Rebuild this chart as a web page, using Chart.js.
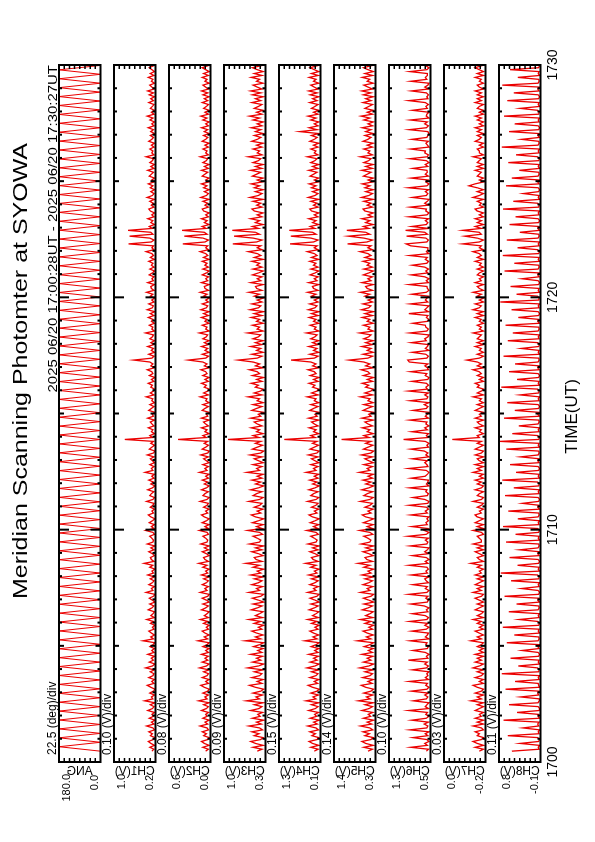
<!DOCTYPE html>
<html><head><meta charset="utf-8">
<script src="https://cdn.jsdelivr.net/npm/chart.js@4"></script>
<style>
html,body{margin:0;padding:0;background:#fff;width:595px;height:842px;overflow:hidden;}
#rot{position:absolute;left:0;top:0;width:842px;height:595px;transform-origin:0 0;transform:translateY(842px) rotate(-90deg);background:#fff;}
#rot canvas{position:absolute;left:0;top:0;}
</style></head><body><div id="rot"></div>
<script>
// ---------------- data ----------------
const TIME_START = 28/60;   // minutes after 17:00 (17:00:28UT)
const TIME_STEP = 5/60;     // channel sampling, 5 s
const ANG_STEP = 11.5/60;   // scan-angle turning points, ~11.5 s
const X_TICK_VALUES = [0,10,20,30];
const X_TICK_LABELS = ['1700','1710','1720','1730'];
const PANEL_NAMES = ['ANG','CH1(V)','CH2(V)','CH3(V)','CH4(V)','CH5(V)','CH6(V)','CH7(V)','CH8(V)'];
const Y_MIN = [0, 0.2, 0.0, 0.3, 0.1, 0.3, 0.5, -0.2, -0.1];
const Y_MAX = [180, 1.0, 0.6, 1.0, 1.3, 1.4, 1.3, 0.0, 0.8];
const Y_MIN_LABELS = ['0.0','0.2','0.0','0.3','0.1','0.3','0.5','-0.2','-0.1'];
const Y_MAX_LABELS = ['180.0','1.0','0.6','1.0','1.3','1.4','1.3','0.0','0.8'];
const DIV_LABELS = ['22.5 (deg)/div','0.10 (V)/div','0.08 (V)/div','0.09 (V)/div','0.15 (V)/div','0.14 (V)/div','0.10 (V)/div','0.03 (V)/div','0.11 (V)/div'];
const TITLE = 'Meridian Scanning Photomter at SYOWA';
const HEADER = '2025 06/20 17:00:28UT - 2025 06/20 17:30:27UT';
const X_TITLE = 'TIME(UT)';

const ANG = [
0,180,0,180,0,180,0,180,0,180, 0,180,0,180,0,180,0,180,0,180,
0,180,0,180,0,180,0,180,0,180, 0,180,0,180,0,180,0,180,0,180,
0,180,0,180,0,180,0,180,0,180, 0,180,0,180,0,180,0,180,0,180,
0,180,0,180,0,180,0,180,0,180, 0,180,0,180,0,180,0,180,0,180,
0,180,0,180,0,180,0,180,0,180, 0,180,0,180,0,180,0,180,0,180,
0,180,0,180,0,180,0,180,0,180, 0,180,0,180,0,180,0,180,0,180,
0,180,0,180,0,180,0,180,0,180, 0,180,0,180,0,180,0,180,0,180,
0,180,0,180,0,180,0,180,0,180, 0,180,0,180,0,180,0];

const CH1 = [
0.27,0.23,0.31,0.22,0.29,0.34,0.24,0.21,0.30,0.26, 0.33,0.22,0.25,0.37,0.23,0.28,0.21,0.32,0.24,0.27,
0.22,0.35,0.26,0.23,0.30,0.21,0.41,0.25,0.28,0.22, 0.31,0.24,0.21,0.29,0.36,0.23,0.27,0.22,0.33,0.25,
0.23,0.30,0.22,0.39,0.26,0.21,0.32,0.24,0.28,0.22, 0.35,0.23,0.27,0.22,0.31,0.25,0.21,0.44,0.24,0.29,
0.22,0.28,0.33,0.23,0.26,0.21,0.30,0.24,0.37,0.22, 0.29,0.25,0.22,0.34,0.27,0.23,0.31,0.21,0.26,0.32,
0.24,0.21,0.38,0.25,0.28,0.22,0.33,0.26,0.23,0.30, 0.22,0.35,0.24,0.27,0.21,0.31,0.25,0.42,0.23,0.28,
0.30,0.22,0.26,0.33,0.23,0.29,0.21,0.36,0.25,0.24, 0.27,0.31,0.22,0.25,0.39,0.23,0.28,0.22,0.32,0.26,
0.21,0.29,0.34,0.24,0.27,0.22,0.30,0.25,0.23,0.37, 0.25,0.22,0.31,0.28,0.23,0.35,0.26,0.21,0.29,0.24,
0.33,0.23,0.27,0.22,0.40,0.25,0.28,0.23,0.31,0.22, 0.26,0.30,0.23,0.36,0.24,0.21,0.32,0.27,0.22,0.29,
0.24,0.79,0.26,0.31,0.22,0.28,0.25,0.34,0.23,0.27, 0.30,0.22,0.35,0.24,0.26,0.21,0.33,0.28,0.23,0.31,
0.22,0.27,0.25,0.38,0.23,0.30,0.24,0.22,0.29,0.26, 0.34,0.23,0.28,0.21,0.32,0.25,0.27,0.36,0.22,0.29,
0.25,0.31,0.62,0.27,0.23,0.33,0.22,0.28,0.24,0.35, 0.23,0.29,0.22,0.31,0.26,0.24,0.39,0.22,0.27,0.25,
0.32,0.22,0.28,0.25,0.34,0.23,0.30,0.21,0.36,0.26, 0.24,0.33,0.23,0.27,0.22,0.30,0.25,0.37,0.23,0.28,
0.29,0.22,0.35,0.24,0.27,0.23,0.32,0.26,0.22,0.31, 0.23,0.28,0.25,0.33,0.22,0.30,0.24,0.27,0.38,0.23,
0.27,0.24,0.72,0.28,0.23,0.31,0.70,0.25,0.29,0.73, 0.26,0.32,0.22,0.29,0.25,0.35,0.23,0.27,0.22,0.30,
0.33,0.23,0.28,0.24,0.31,0.22,0.36,0.26,0.23,0.29, 0.22,0.30,0.25,0.34,0.23,0.27,0.22,0.32,0.28,0.24,
0.35,0.23,0.29,0.22,0.31,0.26,0.24,0.38,0.23,0.27, 0.25,0.31,0.23,0.28,0.22,0.33,0.27,0.24,0.30,0.22,
0.29,0.24,0.34,0.23,0.27,0.22,0.31,0.25,0.36,0.23, 0.28,0.22,0.30,0.26,0.23,0.33,0.24,0.29,0.22,0.32,
0.24,0.35,0.23,0.27,0.31,0.22,0.28,0.25,0.34,0.23, 0.30,0.22,0.27,0.32,0.24,0.29,0.23,0.35,0.26,0.28];

const CH2 = [
0.07,0.03,0.11,0.02,0.09,0.13,0.04,0.02,0.10,0.06, 0.12,0.03,0.05,0.15,0.04,0.08,0.02,0.11,0.05,0.07,
0.03,0.13,0.06,0.03,0.10,0.02,0.17,0.05,0.08,0.03, 0.11,0.04,0.02,0.09,0.14,0.03,0.07,0.02,0.12,0.05,
0.03,0.10,0.02,0.16,0.06,0.02,0.12,0.04,0.08,0.03, 0.13,0.03,0.07,0.02,0.11,0.05,0.02,0.18,0.04,0.09,
0.02,0.08,0.12,0.03,0.06,0.02,0.10,0.04,0.15,0.03, 0.09,0.05,0.02,0.13,0.07,0.03,0.11,0.02,0.06,0.12,
0.04,0.02,0.15,0.05,0.08,0.03,0.12,0.06,0.03,0.10, 0.02,0.13,0.04,0.07,0.02,0.11,0.05,0.17,0.03,0.08,
0.10,0.02,0.06,0.12,0.03,0.09,0.02,0.14,0.05,0.04, 0.07,0.11,0.03,0.05,0.16,0.03,0.08,0.02,0.12,0.06,
0.02,0.09,0.13,0.04,0.07,0.02,0.10,0.05,0.03,0.15, 0.05,0.02,0.11,0.08,0.03,0.13,0.06,0.02,0.09,0.04,
0.12,0.03,0.07,0.02,0.16,0.05,0.08,0.03,0.11,0.02, 0.06,0.10,0.03,0.14,0.04,0.02,0.12,0.07,0.03,0.09,
0.04,0.47,0.06,0.11,0.02,0.08,0.05,0.13,0.03,0.07, 0.10,0.02,0.13,0.04,0.06,0.02,0.12,0.08,0.03,0.11,
0.02,0.07,0.05,0.15,0.03,0.10,0.04,0.02,0.09,0.06, 0.13,0.03,0.08,0.02,0.11,0.05,0.07,0.14,0.02,0.09,
0.05,0.11,0.32,0.07,0.03,0.12,0.02,0.08,0.04,0.13, 0.03,0.09,0.02,0.11,0.06,0.04,0.16,0.02,0.07,0.05,
0.12,0.02,0.08,0.05,0.13,0.03,0.10,0.02,0.14,0.06, 0.04,0.12,0.03,0.07,0.02,0.10,0.05,0.15,0.03,0.08,
0.09,0.02,0.13,0.04,0.07,0.03,0.12,0.06,0.02,0.11, 0.03,0.08,0.05,0.12,0.02,0.10,0.04,0.07,0.15,0.03,
0.07,0.04,0.40,0.08,0.03,0.11,0.38,0.05,0.09,0.41, 0.06,0.12,0.02,0.09,0.05,0.13,0.03,0.07,0.02,0.10,
0.12,0.03,0.08,0.04,0.11,0.02,0.14,0.06,0.03,0.09, 0.02,0.10,0.05,0.13,0.03,0.07,0.02,0.12,0.08,0.04,
0.13,0.03,0.09,0.02,0.11,0.06,0.04,0.15,0.03,0.07, 0.05,0.11,0.03,0.08,0.02,0.12,0.07,0.04,0.10,0.02,
0.09,0.04,0.13,0.03,0.07,0.02,0.11,0.05,0.14,0.03, 0.08,0.02,0.10,0.06,0.03,0.12,0.04,0.09,0.02,0.11,
0.04,0.13,0.03,0.07,0.11,0.02,0.08,0.05,0.12,0.03, 0.10,0.02,0.07,0.12,0.04,0.09,0.03,0.14,0.06,0.08];

const CH3 = [
0.44,0.36,0.51,0.34,0.47,0.55,0.38,0.34,0.49,0.41, 0.53,0.35,0.40,0.58,0.37,0.45,0.33,0.52,0.39,0.43,
0.35,0.55,0.41,0.36,0.49,0.34,0.62,0.40,0.46,0.35, 0.51,0.38,0.33,0.47,0.57,0.36,0.44,0.34,0.53,0.40,
0.36,0.49,0.34,0.60,0.42,0.33,0.52,0.38,0.45,0.35, 0.55,0.36,0.43,0.34,0.50,0.40,0.33,0.64,0.38,0.47,
0.34,0.45,0.53,0.36,0.42,0.33,0.49,0.38,0.58,0.35, 0.47,0.40,0.34,0.54,0.44,0.36,0.51,0.33,0.42,0.52,
0.38,0.33,0.58,0.40,0.45,0.35,0.53,0.42,0.36,0.49, 0.34,0.55,0.38,0.44,0.33,0.51,0.40,0.63,0.36,0.46,
0.49,0.34,0.42,0.53,0.36,0.47,0.33,0.57,0.40,0.38, 0.44,0.51,0.35,0.40,0.60,0.36,0.45,0.34,0.52,0.42,
0.33,0.47,0.54,0.38,0.44,0.34,0.49,0.40,0.36,0.58, 0.40,0.34,0.51,0.45,0.36,0.55,0.42,0.33,0.47,0.38,
0.53,0.36,0.44,0.34,0.61,0.40,0.45,0.36,0.51,0.34, 0.42,0.49,0.36,0.56,0.38,0.33,0.52,0.44,0.35,0.47,
0.38,0.93,0.41,0.51,0.34,0.45,0.40,0.54,0.36,0.44, 0.49,0.34,0.55,0.38,0.42,0.33,0.53,0.45,0.36,0.51,
0.34,0.44,0.40,0.59,0.36,0.49,0.38,0.34,0.47,0.42, 0.54,0.36,0.45,0.33,0.52,0.40,0.44,0.57,0.34,0.47,
0.40,0.51,0.76,0.44,0.36,0.53,0.34,0.45,0.38,0.55, 0.36,0.47,0.34,0.51,0.42,0.38,0.60,0.34,0.44,0.40,
0.52,0.34,0.45,0.40,0.54,0.36,0.49,0.33,0.56,0.42, 0.38,0.53,0.36,0.44,0.34,0.49,0.40,0.58,0.36,0.45,
0.47,0.34,0.55,0.38,0.44,0.36,0.52,0.42,0.34,0.51, 0.36,0.45,0.40,0.53,0.34,0.49,0.38,0.44,0.59,0.36,
0.44,0.38,0.85,0.45,0.36,0.51,0.83,0.40,0.47,0.86, 0.42,0.52,0.34,0.47,0.40,0.55,0.36,0.44,0.34,0.49,
0.53,0.36,0.45,0.38,0.51,0.34,0.56,0.42,0.36,0.47, 0.34,0.49,0.40,0.54,0.36,0.44,0.34,0.52,0.45,0.38,
0.55,0.36,0.47,0.34,0.51,0.42,0.38,0.59,0.36,0.44, 0.40,0.51,0.36,0.45,0.34,0.53,0.44,0.38,0.49,0.34,
0.47,0.38,0.54,0.36,0.44,0.34,0.51,0.40,0.57,0.36, 0.45,0.34,0.49,0.42,0.36,0.53,0.38,0.47,0.34,0.52,
0.38,0.55,0.36,0.44,0.51,0.34,0.45,0.40,0.54,0.36, 0.49,0.34,0.44,0.52,0.38,0.47,0.36,0.56,0.42,0.45];

const CH4 = [
0.28,0.17,0.38,0.15,0.33,0.43,0.20,0.15,0.35,0.25, 0.41,0.16,0.23,0.47,0.19,0.30,0.14,0.40,0.21,0.27,
0.16,0.44,0.25,0.17,0.36,0.15,0.52,0.23,0.32,0.16, 0.38,0.20,0.14,0.33,0.46,0.18,0.28,0.15,0.41,0.23,
0.17,0.36,0.15,0.49,0.26,0.14,0.40,0.20,0.30,0.16, 0.44,0.17,0.27,0.15,0.37,0.23,0.14,0.55,0.20,0.32,
0.15,0.30,0.41,0.17,0.26,0.14,0.36,0.20,0.47,0.16, 0.33,0.23,0.15,0.43,0.28,0.17,0.38,0.14,0.26,0.40,
0.20,0.14,0.47,0.23,0.30,0.16,0.41,0.26,0.17,0.36, 0.15,0.44,0.20,0.28,0.14,0.38,0.23,0.53,0.17,0.31,
0.36,0.15,0.26,0.41,0.17,0.33,0.14,0.46,0.23,0.20, 0.28,0.38,0.16,0.23,0.50,0.17,0.30,0.15,0.40,0.26,
0.14,0.33,0.43,0.20,0.28,0.15,0.36,0.23,0.17,0.47, 0.23,0.15,0.38,0.30,0.17,0.44,0.26,0.14,0.33,0.20,
0.41,0.17,0.28,0.15,0.51,0.23,0.30,0.17,0.38,0.15, 0.26,0.36,0.17,0.45,0.20,0.14,0.40,0.28,0.16,0.33,
0.20,1.15,0.25,0.38,0.15,0.30,0.23,0.43,0.17,0.28, 0.36,0.15,0.44,0.20,0.26,0.14,0.41,0.30,0.17,0.38,
0.15,0.28,0.23,0.48,0.17,0.36,0.20,0.15,0.33,0.26, 0.43,0.17,0.30,0.14,0.40,0.23,0.28,0.46,0.15,0.33,
0.23,0.38,0.95,0.28,0.17,0.41,0.15,0.30,0.20,0.44, 0.17,0.33,0.15,0.38,0.26,0.20,0.50,0.15,0.28,0.23,
0.40,0.15,0.30,0.23,0.43,0.17,0.36,0.14,0.45,0.26, 0.20,0.41,0.17,0.28,0.15,0.36,0.23,0.47,0.17,0.30,
0.33,0.15,0.44,0.20,0.28,0.17,0.40,0.26,0.15,0.38, 0.17,0.30,0.23,0.41,0.15,0.36,0.20,0.28,0.48,0.17,
0.28,0.20,0.98,0.30,0.17,0.38,0.96,0.23,0.33,1.00, 0.26,0.40,0.15,0.33,0.23,0.44,0.17,0.28,0.15,0.36,
0.41,0.17,0.30,0.20,0.38,0.15,0.45,0.26,0.17,0.33, 0.15,0.36,0.23,0.43,0.17,0.28,0.15,0.40,0.30,0.20,
0.44,0.17,0.33,0.15,0.38,0.26,0.20,0.48,0.17,0.28, 0.23,0.38,0.17,0.30,0.15,0.41,0.28,0.20,0.36,0.15,
0.70,0.20,0.43,0.17,0.28,0.15,0.38,0.23,0.46,0.17, 0.30,0.15,0.36,0.26,0.17,0.41,0.20,0.33,0.15,0.40,
0.20,0.44,0.17,0.28,0.38,0.15,0.30,0.23,0.43,0.17, 0.36,0.15,0.28,0.40,0.20,0.33,0.17,0.45,0.26,0.30];

const CH5 = [
0.50,0.38,0.61,0.36,0.56,0.66,0.42,0.36,0.58,0.46, 0.63,0.37,0.45,0.70,0.40,0.52,0.35,0.62,0.43,0.49,
0.37,0.66,0.47,0.38,0.58,0.36,0.75,0.44,0.54,0.37, 0.61,0.42,0.35,0.56,0.68,0.39,0.50,0.36,0.64,0.45,
0.38,0.58,0.36,0.72,0.48,0.35,0.62,0.42,0.52,0.37, 0.66,0.38,0.49,0.36,0.60,0.45,0.35,0.78,0.42,0.54,
0.36,0.52,0.63,0.38,0.48,0.35,0.58,0.42,0.70,0.37, 0.56,0.45,0.36,0.65,0.50,0.38,0.61,0.35,0.48,0.62,
0.42,0.35,0.70,0.45,0.52,0.37,0.63,0.48,0.38,0.58, 0.36,0.66,0.42,0.50,0.35,0.61,0.45,0.76,0.38,0.53,
0.58,0.36,0.48,0.63,0.38,0.56,0.35,0.68,0.45,0.42, 0.50,0.61,0.37,0.45,0.72,0.38,0.52,0.36,0.62,0.48,
0.35,0.56,0.65,0.42,0.50,0.36,0.58,0.45,0.38,0.70, 0.45,0.36,0.61,0.52,0.38,0.66,0.48,0.35,0.56,0.42,
0.63,0.38,0.50,0.36,0.73,0.45,0.52,0.38,0.61,0.36, 0.48,0.58,0.38,0.67,0.42,0.35,0.62,0.50,0.37,0.56,
0.42,1.20,0.47,0.61,0.36,0.52,0.45,0.65,0.38,0.50, 0.58,0.36,0.66,0.42,0.48,0.35,0.63,0.52,0.38,0.61,
0.36,0.50,0.45,0.70,0.38,0.58,0.42,0.36,0.56,0.48, 0.65,0.38,0.52,0.35,0.62,0.45,0.50,0.68,0.36,0.56,
0.45,0.61,1.00,0.50,0.38,0.63,0.36,0.52,0.42,0.66, 0.38,0.56,0.36,0.61,0.48,0.42,0.72,0.36,0.50,0.45,
0.62,0.36,0.52,0.45,0.65,0.38,0.58,0.35,0.67,0.48, 0.42,0.63,0.38,0.50,0.36,0.58,0.45,0.70,0.38,0.52,
0.56,0.36,0.66,0.42,0.50,0.38,0.62,0.48,0.36,0.61, 0.38,0.52,0.45,0.63,0.36,0.58,0.42,0.50,0.71,0.38,
0.50,0.42,1.04,0.52,0.38,0.61,1.02,0.45,0.56,1.06, 0.48,0.62,0.36,0.56,0.45,0.66,0.38,0.50,0.36,0.58,
0.63,0.38,0.52,0.42,0.61,0.36,0.67,0.48,0.38,0.56, 0.36,0.58,0.45,0.65,0.38,0.50,0.36,0.62,0.52,0.42,
0.66,0.38,0.56,0.36,0.61,0.48,0.42,0.70,0.38,0.50, 0.45,0.61,0.38,0.52,0.36,0.63,0.50,0.42,0.58,0.36,
0.56,0.42,0.65,0.38,0.50,0.36,0.61,0.45,0.68,0.38, 0.52,0.36,0.58,0.48,0.38,0.63,0.42,0.56,0.36,0.62,
0.42,0.66,0.38,0.50,0.61,0.36,0.52,0.45,0.65,0.38, 0.58,0.36,0.50,0.62,0.42,0.56,0.38,0.67,0.48,0.52];

const CH6 = [
0.58,0.54,0.88,0.56,0.61,0.53,0.57,0.84,0.55,0.60, 0.53,0.90,0.57,0.55,0.62,0.54,0.86,0.58,0.53,0.59,
0.56,0.92,0.54,0.60,0.57,0.53,0.83,0.58,0.55,0.61, 0.54,0.87,0.57,0.53,0.59,0.56,0.91,0.54,0.60,0.55,
0.57,0.53,0.85,0.58,0.54,0.61,0.56,0.93,0.55,0.58, 0.53,0.60,0.84,0.56,0.54,0.59,0.57,0.89,0.53,0.60,
0.56,0.54,0.86,0.58,0.53,0.61,0.55,0.90,0.57,0.54, 0.60,0.85,0.55,0.58,0.53,0.62,0.88,0.56,0.54,0.59,
0.55,0.92,0.57,0.53,0.60,0.56,0.84,0.54,0.58,0.61, 0.53,0.87,0.56,0.59,0.54,0.57,0.91,0.55,0.60,0.53,
0.58,0.85,0.54,0.61,0.56,0.53,0.89,0.57,0.55,0.60, 0.54,0.93,0.58,0.53,0.62,0.55,0.86,0.56,0.59,0.54,
0.57,0.53,0.88,0.56,0.60,0.54,0.58,0.91,0.55,0.53, 0.61,0.84,0.56,0.54,0.59,0.57,0.90,0.53,0.58,0.55,
0.54,0.87,0.60,0.56,0.53,0.58,0.92,0.55,0.57,0.61, 0.56,0.85,0.53,0.59,0.55,0.62,0.88,0.54,0.57,0.53,
0.60,1.02,0.55,0.58,0.54,0.86,0.56,0.61,0.53,0.59, 0.57,0.90,0.54,0.60,0.56,0.53,0.84,0.58,0.55,0.62,
0.53,0.89,0.57,0.55,0.61,0.54,0.92,0.56,0.59,0.54, 0.58,0.86,0.55,0.53,0.60,0.57,0.88,0.54,0.56,0.61,
0.55,0.91,0.94,0.57,0.54,0.59,0.85,0.53,0.60,0.56, 0.54,0.87,0.58,0.61,0.55,0.53,0.90,0.57,0.54,0.59,
0.60,0.84,0.56,0.53,0.58,0.55,0.92,0.54,0.61,0.57, 0.53,0.89,0.55,0.60,0.57,0.54,0.86,0.58,0.53,0.56,
0.57,0.91,0.54,0.58,0.53,0.61,0.87,0.55,0.59,0.54, 0.61,0.85,0.57,0.54,0.60,0.56,0.90,0.53,0.58,0.55,
0.55,0.88,0.97,0.57,0.54,0.59,0.96,0.56,0.61,0.98, 0.53,0.86,0.58,0.55,0.60,0.54,0.91,0.57,0.53,0.59,
0.58,0.89,0.54,0.61,0.56,0.53,0.85,0.58,0.55,0.60, 0.54,0.92,0.57,0.53,0.59,0.55,0.87,0.54,0.60,0.56,
0.57,0.84,0.55,0.60,0.53,0.58,0.90,0.56,0.54,0.61, 0.60,0.88,0.53,0.56,0.59,0.54,0.86,0.57,0.55,0.53,
0.55,0.91,0.58,0.54,0.61,0.56,0.89,0.53,0.58,0.57, 0.53,0.85,0.56,0.59,0.54,0.60,0.92,0.55,0.57,0.54,
0.58,0.87,0.54,0.61,0.55,0.53,0.88,0.57,0.60,0.56, 0.56,0.90,0.57,0.53,0.59,0.55,0.86,0.54,0.58,0.60];

const CH7 = [
-0.17,-0.19,-0.15,-0.19,-0.16,-0.14,-0.18,-0.19,-0.16,-0.17, -0.15,-0.19,-0.18,-0.14,-0.19,-0.16,-0.19,-0.15,-0.18,-0.17,
-0.19,-0.15,-0.17,-0.19,-0.16,-0.19,-0.13,-0.18,-0.16,-0.19, -0.15,-0.18,-0.19,-0.16,-0.14,-0.19,-0.17,-0.19,-0.15,-0.18,
-0.19,-0.16,-0.19,-0.14,-0.17,-0.19,-0.15,-0.18,-0.16,-0.19, -0.15,-0.19,-0.17,-0.19,-0.16,-0.18,-0.19,-0.13,-0.18,-0.16,
-0.19,-0.17,-0.15,-0.19,-0.17,-0.19,-0.16,-0.18,-0.14,-0.19, -0.16,-0.18,-0.19,-0.15,-0.17,-0.19,-0.16,-0.19,-0.17,-0.15,
-0.18,-0.19,-0.14,-0.18,-0.16,-0.19,-0.15,-0.17,-0.19,-0.16, -0.19,-0.15,-0.18,-0.17,-0.19,-0.16,-0.18,-0.13,-0.19,-0.17,
-0.16,-0.19,-0.17,-0.15,-0.19,-0.16,-0.19,-0.14,-0.18,-0.18, -0.17,-0.16,-0.19,-0.18,-0.14,-0.19,-0.16,-0.19,-0.15,-0.17,
-0.19,-0.16,-0.15,-0.18,-0.17,-0.19,-0.16,-0.18,-0.19,-0.14, -0.18,-0.19,-0.16,-0.17,-0.19,-0.15,-0.18,-0.19,-0.16,-0.18,
-0.15,-0.19,-0.17,-0.19,-0.14,-0.18,-0.16,-0.19,-0.15,-0.19, -0.17,-0.16,-0.19,-0.15,-0.18,-0.19,-0.15,-0.17,-0.19,-0.16,
-0.18,-0.04,-0.17,-0.16,-0.19,-0.17,-0.18,-0.15,-0.19,-0.17, -0.16,-0.19,-0.15,-0.18,-0.17,-0.19,-0.15,-0.17,-0.19,-0.16,
-0.19,-0.17,-0.18,-0.14,-0.19,-0.16,-0.18,-0.19,-0.16,-0.17, -0.15,-0.19,-0.17,-0.19,-0.16,-0.18,-0.17,-0.14,-0.19,-0.16,
-0.18,-0.16,-0.11,-0.17,-0.19,-0.16,-0.19,-0.17,-0.18,-0.15, -0.19,-0.16,-0.19,-0.16,-0.17,-0.18,-0.14,-0.19,-0.17,-0.18,
-0.16,-0.19,-0.17,-0.18,-0.15,-0.19,-0.16,-0.19,-0.14,-0.17, -0.18,-0.15,-0.19,-0.17,-0.19,-0.16,-0.18,-0.14,-0.19,-0.17,
-0.16,-0.19,-0.15,-0.18,-0.17,-0.19,-0.16,-0.17,-0.19,-0.16, -0.19,-0.17,-0.18,-0.15,-0.19,-0.16,-0.18,-0.17,-0.14,-0.19,
-0.17,-0.18,-0.09,-0.17,-0.19,-0.16,-0.10,-0.18,-0.17,-0.09, -0.18,-0.15,-0.19,-0.16,-0.18,-0.15,-0.19,-0.17,-0.19,-0.16,
-0.15,-0.19,-0.17,-0.18,-0.16,-0.19,-0.14,-0.17,-0.19,-0.16, -0.19,-0.16,-0.12,-0.15,-0.19,-0.17,-0.19,-0.16,-0.17,-0.18,
-0.15,-0.19,-0.16,-0.19,-0.16,-0.17,-0.18,-0.14,-0.19,-0.17, -0.17,-0.16,-0.19,-0.17,-0.19,-0.15,-0.17,-0.18,-0.16,-0.19,
-0.16,-0.18,-0.15,-0.19,-0.17,-0.19,-0.16,-0.18,-0.15,-0.19, -0.17,-0.19,-0.16,-0.17,-0.19,-0.15,-0.18,-0.16,-0.19,-0.16,
-0.18,-0.15,-0.19,-0.17,-0.16,-0.19,-0.17,-0.18,-0.15,-0.19, -0.16,-0.19,-0.17,-0.15,-0.18,-0.16,-0.19,-0.14,-0.17,-0.17];

const CH8 = [
0.52,-0.07,-0.05,-0.08,0.34,-0.06,-0.08,-0.04,0.61,-0.07,-0.05,-0.08,
0.28,-0.06,-0.04,-0.07,0.70,-0.08,-0.05,-0.06,0.41,-0.07,-0.08,-0.05,
0.58,-0.05,-0.07,-0.08,0.33,-0.06,-0.04,-0.07,0.66,-0.08,-0.06,-0.05,
0.45,-0.07,-0.05,-0.08,0.74,-0.06,-0.07,-0.04,0.38,-0.08,-0.05,-0.07,
0.55,-0.06,-0.08,-0.05,0.30,-0.07,-0.04,-0.08,0.63,-0.05,-0.07,-0.06,
0.47,-0.08,-0.05,-0.07,0.72,-0.06,-0.08,-0.04,0.36,-0.07,-0.05,-0.08,
0.59,-0.05,-0.07,-0.06,0.42,-0.08,-0.04,-0.07,0.68,-0.06,-0.08,-0.05,
0.31,-0.07,-0.05,-0.08,0.54,-0.06,-0.07,-0.04,0.76,-0.08,-0.05,-0.07,
0.40,-0.06,-0.08,-0.05,0.57,-0.07,-0.04,-0.08,0.35,-0.05,-0.07,-0.06,
0.65,-0.08,-0.05,-0.07,0.44,-0.06,-0.08,-0.04,0.71,-0.07,-0.05,-0.08,
0.39,-0.05,-0.07,-0.06,0.60,-0.08,-0.04,-0.07,0.29,-0.06,-0.08,-0.05,
0.67,-0.07,-0.05,-0.08,0.48,-0.06,-0.07,-0.04,0.73,-0.08,-0.05,-0.07,
0.43,-0.06,-0.08,-0.05,0.56,-0.07,-0.04,-0.08,0.33,-0.05,-0.07,-0.06,
0.64,-0.08,-0.05,-0.07,0.78,-0.06,-0.08,-0.04,0.51,-0.07,-0.05,-0.08,
0.37,-0.05,-0.07,-0.06,0.69,-0.08,-0.04,-0.07,0.46,-0.06,-0.08,-0.05,
0.62,-0.07,-0.05,-0.08,0.34,-0.06,-0.07,-0.04,0.75,-0.08,-0.05,-0.07,
0.41,-0.06,-0.08,-0.05,0.58,-0.07,-0.04,-0.08,0.45,-0.05,-0.07,-0.06,
0.70,-0.08,-0.05,-0.07,0.32,-0.06,-0.08,-0.04,0.61,-0.07,-0.05,-0.08,
0.50,-0.05,-0.07,-0.06,0.66,-0.08,-0.04,-0.07,0.38,-0.06,-0.08,-0.05,
0.53,-0.07,-0.05,-0.08,0.77,-0.06,-0.07,-0.04,0.42,-0.08,-0.05,-0.07,
0.55,-0.06,-0.08,-0.05,0.30,-0.07,-0.04,-0.08,0.68,-0.05,-0.07,-0.06,
0.47,-0.08,-0.05,-0.07,0.72,-0.06,-0.08,-0.04,0.40,-0.07,-0.05,-0.08,
0.63,-0.05,-0.07,-0.06,0.35,-0.08,-0.04,-0.07,0.57,-0.06,-0.08,-0.05,
0.44,-0.07,-0.05,-0.08,0.71,-0.06,-0.07,-0.04,0.49,-0.08,-0.05,-0.07,
0.27,-0.06,-0.08,-0.05,0.65,-0.07,-0.04,-0.08,0.52,-0.05,-0.07,-0.06,
0.36,-0.08,-0.05,-0.07,0.60,-0.06,-0.08,-0.04,0.43,-0.07,-0.05,-0.08,
0.74,-0.05,-0.07,-0.06,0.31,-0.08,-0.04,-0.07,0.58,-0.06,-0.08,-0.05,
0.46,-0.07,-0.05,-0.08,0.69,-0.06,-0.07,-0.04,0.34,-0.08,-0.05,-0.07,
0.62,-0.06,-0.08,-0.05,0.48,-0.07,-0.04,-0.08,0.73,-0.05,-0.07,-0.06,
0.39,-0.08,-0.05,-0.07,0.56,-0.06,-0.08,-0.04,0.67,-0.07,-0.05,-0.08];

const SERIES = [ANG, CH1, CH2, CH3, CH4, CH5, CH6, CH7, CH8];
const STEPS = [ANG_STEP, TIME_STEP, TIME_STEP, TIME_STEP, TIME_STEP, TIME_STEP, TIME_STEP, TIME_STEP, TIME_STEP];

// ---------------- layout (unrotated coordinates, 842 x 595) ----------------
const W = 842, H = 595;
const PLOT_LEFT = 80, PLOT_RIGHT = 777;
const PANEL_TOP0 = 59, PANEL_PITCH = 55, PANEL_H = 41.5;
const FONT = '"Liberation Sans", Arial, Helvetica, sans-serif';
const LINE_COLOR = 'rgb(235,0,0)';
const LINE_WIDTHS = [1, 1.3, 1.3, 1.3, 1.3, 1.3, 1.3, 1.3, 1.3];

function stretchText(ctx, text, x, y, sx) {
  ctx.save(); ctx.translate(x, y); ctx.scale(sx, 1); ctx.fillText(text, 0, 0); ctx.restore();
}

function makePanelPlugin(k) {
  return {
    id: 'panel' + k,
    afterDraw(chart) {
      const ctx = chart.ctx, a = chart.chartArea;
      const xs = chart.scales.x, ys = chart.scales.y;
      ctx.save();
      ctx.strokeStyle = '#000'; ctx.fillStyle = '#000';
      // time ticks (inward, top and bottom)
      ctx.lineWidth = 2;
      ctx.beginPath();
      for (let m = 1; m < 30; m++) {
        const px = xs.getPixelForValue(m);
        const len = m % 10 === 0 ? 10 : (m % 5 === 0 ? 5 : 3);
        ctx.moveTo(px, a.top); ctx.lineTo(px, a.top + len);
        ctx.moveTo(px, a.bottom); ctx.lineTo(px, a.bottom - len);
      }
      ctx.stroke();
      // value ticks: 8 divisions
      ctx.lineWidth = 1.5;
      ctx.beginPath();
      for (let j = 1; j < 8; j++) {
        const py = ys.getPixelForValue(Y_MIN[k] + j * (Y_MAX[k] - Y_MIN[k]) / 8);
        ctx.moveTo(a.left, py); ctx.lineTo(a.left + 4, py);
        ctx.moveTo(a.right, py); ctx.lineTo(a.right - 4, py);
      }
      ctx.stroke();
      // frame
      ctx.lineWidth = 2;
      ctx.strokeRect(a.left, a.top, a.right - a.left, a.bottom - a.top);
      // value labels
      ctx.font = '11px ' + FONT;
      ctx.textAlign = 'right'; ctx.textBaseline = 'middle';
      ctx.fillText(Y_MAX_LABELS[k], a.left - 12, ys.getPixelForValue(Y_MAX[k]) + 8);
      ctx.fillText(Y_MIN_LABELS[k], a.left - 13, ys.getPixelForValue(Y_MIN[k]) - 6);
      // per-division label above the panel
      ctx.font = '12px ' + FONT;
      ctx.textAlign = 'left'; ctx.textBaseline = 'alphabetic';
      ctx.fillText(DIV_LABELS[k], a.left + 7, a.top - 3);
      // channel name (mirrored as in the original print)
      ctx.save();
      ctx.translate(a.left - 9.5, (a.top + a.bottom) / 2);
      ctx.transform(0, -1, -1, 0, 0, 0);
      ctx.font = '12px ' + FONT;
      ctx.textAlign = 'center'; ctx.textBaseline = 'middle';
      ctx.fillText(PANEL_NAMES[k], 0, 0);
      ctx.restore();
      // page-level texts
      if (k === 0) {
        ctx.textAlign = 'center'; ctx.textBaseline = 'alphabetic';
        ctx.font = '21px ' + FONT;
        stretchText(ctx, TITLE, 471, 27, 1.19);
        ctx.textAlign = 'right';
        ctx.font = '13px ' + FONT;
        stretchText(ctx, HEADER, a.right, 57, 1.15);
      }
      if (k === SERIES.length - 1) {
        ctx.textAlign = 'center'; ctx.textBaseline = 'alphabetic';
        ctx.font = '14px ' + FONT;
        X_TICK_VALUES.forEach((v, i) => ctx.fillText(X_TICK_LABELS[i], xs.getPixelForValue(v), 557));
        ctx.font = '17px ' + FONT;
        ctx.fillText(X_TITLE, (PLOT_LEFT + PLOT_RIGHT) / 2 - 3, 577);
      }
      ctx.restore();
    }
  };
}

const root = document.getElementById('rot');
SERIES.forEach((series, k) => {
  const c = document.createElement('canvas');
  c.width = W; c.height = H;
  c.style.width = W + 'px'; c.style.height = H + 'px';
  root.appendChild(c);
  const top = PANEL_TOP0 + k * PANEL_PITCH;
  new Chart(c, {
    type: 'line',
    data: {
      datasets: [{
        data: series.map((v, i) => ({ x: TIME_START + i * STEPS[k], y: v })),
        borderColor: LINE_COLOR, borderWidth: LINE_WIDTHS[k], pointRadius: 0, tension: 0, fill: false
      }]
    },
    options: {
      responsive: false, animation: false, events: [], devicePixelRatio: 1,
      layout: { padding: { left: PLOT_LEFT, right: W - PLOT_RIGHT, top: top, bottom: H - top - PANEL_H } },
      plugins: { legend: { display: false }, tooltip: { enabled: false }, title: { display: false } },
      scales: {
        x: { type: 'linear', min: 0, max: 30, display: false },
        y: { type: 'linear', min: Y_MIN[k], max: Y_MAX[k], display: false }
      }
    },
    plugins: [makePanelPlugin(k)]
  });
});
</script>
</body></html>
